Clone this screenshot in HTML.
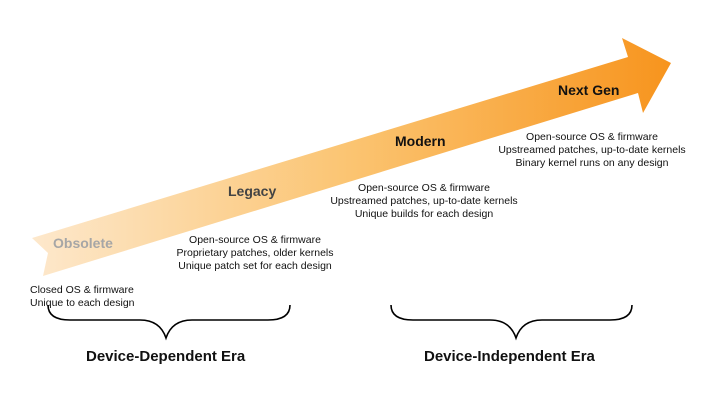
<!DOCTYPE html>
<html><head><meta charset="utf-8"><style>
html,body{margin:0;padding:0;background:#fff;}
body{width:720px;height:405px;position:relative;overflow:hidden;font-family:"Liberation Sans",Arial,sans-serif;}
.t{position:absolute;font-size:10.5px;color:#111;text-align:center;line-height:13px;white-space:nowrap;}
.h{position:absolute;font-weight:bold;font-size:14px;white-space:nowrap;}
</style></head><body>
<svg width="720" height="405" style="position:absolute;left:0;top:0">
<defs><linearGradient id="g" x1="32" y1="0" x2="672" y2="0" gradientUnits="userSpaceOnUse">
<stop offset="0" stop-color="#fde8cc"/><stop offset="0.5" stop-color="#fbc471"/><stop offset="1" stop-color="#f7941d"/></linearGradient></defs>
<polygon points="32,238 628,57 622,38 671,63 643,113 638,93 43,276 48,253" fill="url(#g)"/>
<path d="M48,305 Q48,320 70,320 L140,320 Q160,320 166,338 Q172,320 192,320 L268,320 Q290,320 290,305" fill="none" stroke="#000" stroke-width="1.6"/>
<path d="M391,305 Q391,320 413,320 L490,320 Q510,320 516,338 Q522,320 542,320 L610,320 Q632,320 632,305" fill="none" stroke="#000" stroke-width="1.6"/>
</svg>
<div class="h" style="left:53px;top:235px;color:#a6a6a6;">Obsolete</div>
<div class="h" style="left:228px;top:183px;color:#444;">Legacy</div>
<div class="h" style="left:395px;top:133px;color:#111;">Modern</div>
<div class="h" style="left:558px;top:82px;color:#111;">Next Gen</div>
<div class="t" style="left:30px;top:284px;text-align:left;">Closed OS &amp; firmware<br>Unique to each design</div>
<div class="t" style="left:165px;top:234px;width:180px;">Open-source OS &amp; firmware<br>Proprietary patches, older kernels<br>Unique patch set for each design</div>
<div class="t" style="left:324px;top:182px;width:200px;">Open-source OS &amp; firmware<br>Upstreamed patches, up-to-date kernels<br>Unique builds for each design</div>
<div class="t" style="left:492px;top:131px;width:200px;">Open-source OS &amp; firmware<br>Upstreamed patches, up-to-date kernels<br>Binary kernel runs on any design</div>
<div class="h" style="left:86px;top:348px;font-size:15px;color:#111;">Device-Dependent Era</div>
<div class="h" style="left:424px;top:348px;font-size:15px;color:#111;">Device-Independent Era</div>
</body></html>
